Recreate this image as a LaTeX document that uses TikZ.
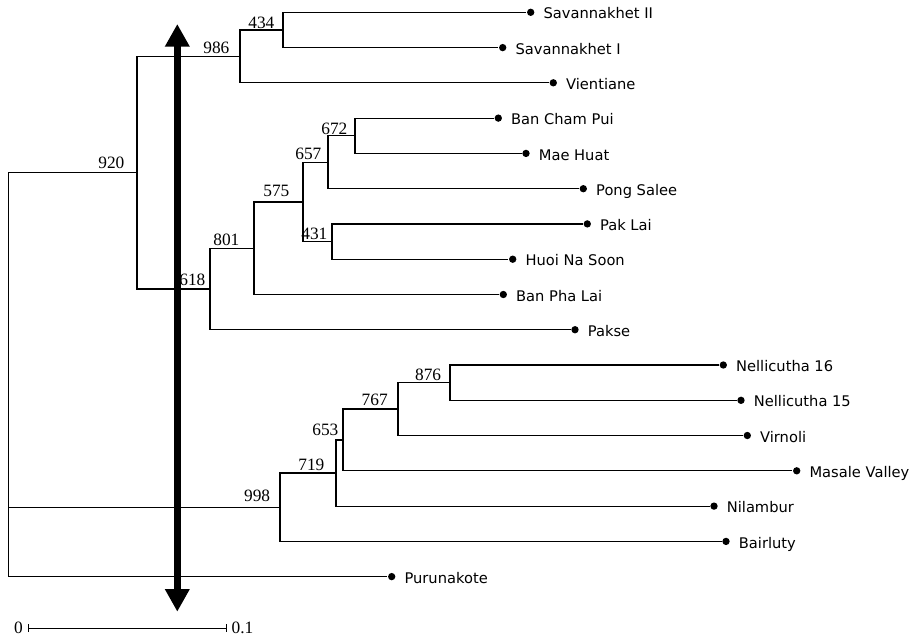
\documentclass[tikz,border=0pt]{standalone}
\usepackage{fontspec}
\setmainfont{Liberation Serif}
\newfontfamily\taxonfont{DejaVu Sans}
\usetikzlibrary{arrows.meta,positioning}

\tikzset{every picture/.style={line width=0.9pt}}
\tikzset{
  tip/.style={circle,fill=black,inner sep=0pt,minimum size=5.5pt},
  taxon/.style={font=\taxonfont\fontsize{11}{13}\selectfont,inner sep=0pt,text height=10pt,text depth=0pt},
  boot/.style={font=\fontsize{13}{15}\selectfont,inner sep=0pt,anchor=base east},
  scalelab/.style={font=\fontsize{13}{15}\selectfont,inner sep=0pt},
}

\begin{document}
\begin{tikzpicture}[x=0.75pt,y=0.75pt,yscale=-1,xscale=1]
\useasboundingbox (0,0) rectangle (923,637);

%Tips
\node[tip] (savII) at (530.7,12.3) {};
\node[tip] (savI) at (502.7,47.6) {};
\node[tip] (vien) at (553.3,82.8) {};
\node[tip] (bcp) at (498.3,118.1) {};
\node[tip] (mae) at (526,153.4) {};
\node[tip] (pong) at (583.3,188.7) {};
\node[tip] (paklai) at (587.3,223.9) {};
\node[tip] (huoi) at (512.7,259.2) {};
\node[tip] (bpl) at (503.3,294.5) {};
\node[tip] (pakse) at (575,329.7) {};
\node[tip] (nel16) at (723.3,365) {};
\node[tip] (nel15) at (741,400.3) {};
\node[tip] (virn) at (747.3,435.5) {};
\node[tip] (masale) at (796.7,470.8) {};
\node[tip] (nilam) at (714,506.1) {};
\node[tip] (bair) at (726,541.4) {};
\node[tip] (puru) at (391.7,576.6) {};

%Internal nodes
\coordinate (root) at (8.7,374.6);
\coordinate (n920) at (137,172.7);
\coordinate (n986) at (240,56.4);
\coordinate (n434) at (283,30);
\coordinate (n618) at (210,289);
\coordinate (n801) at (254,248.2);
\coordinate (n575) at (303,201.9);
\coordinate (n657) at (328,162.2);
\coordinate (n672) at (355,135.7);
\coordinate (n431) at (332,241.6);
\coordinate (n998) at (280,507.2);
\coordinate (n719) at (336,473);
\coordinate (n653) at (343,439.9);
\coordinate (n767) at (398,409);
\coordinate (n876) at (450,382.6);

%Branches
\draw (root) |- (n920);
\draw (root) |- (n998);
\draw (root) |- (puru);
\draw (n920) |- (n986);
\draw (n920) |- (n618);
\draw (n986) |- (n434);
\draw (n986) |- (vien);
\draw (n434) |- (savII);
\draw (n434) |- (savI);
\draw (n618) |- (n801);
\draw (n618) |- (pakse);
\draw (n801) |- (n575);
\draw (n801) |- (bpl);
\draw (n575) |- (n657);
\draw (n575) |- (n431);
\draw (n657) |- (n672);
\draw (n657) |- (pong);
\draw (n672) |- (bcp);
\draw (n672) |- (mae);
\draw (n431) |- (paklai);
\draw (n431) |- (huoi);
\draw (n998) |- (n719);
\draw (n998) |- (bair);
\draw (n719) |- (n653);
\draw (n719) |- (nilam);
\draw (n653) |- (n767);
\draw (n653) |- (masale);
\draw (n767) |- (n876);
\draw (n767) |- (virn);
\draw (n876) |- (nel16);
\draw (n876) |- (nel15);

%Taxa
\node[taxon, right=6pt of savII] (lsavII) {Savannakhet II};
\node[taxon, right=6pt of savI] (lsavI) {Savannakhet I};
\node[taxon, right=6pt of vien] (lvien) {Vientiane};
\node[taxon, right=6pt of bcp] (lbcp) {Ban Cham Pui};
\node[taxon, right=6pt of mae] (lmae) {Mae Huat};
\node[taxon, right=6pt of pong] (lpong) {Pong Salee};
\node[taxon, right=6pt of paklai] (lpaklai) {Pak Lai};
\node[taxon, right=6pt of huoi] (lhuoi) {Huoi Na Soon};
\node[taxon, right=6pt of bpl] (lbpl) {Ban Pha Lai};
\node[taxon, right=6pt of pakse] (lpakse) {Pakse};
\node[taxon, right=6pt of nel16] (lnel16) {Nellicutha 16};
\node[taxon, right=6pt of nel15] (lnel15) {Nellicutha 15};
\node[taxon, right=6pt of virn] (lvirn) {Virnoli};
\node[taxon, right=6pt of masale] (lmasale) {Masale Valley};
\node[taxon, right=6pt of nilam] (lnilam) {Nilambur};
\node[taxon, right=6pt of bair] (lbair) {Bairluty};
\node[taxon, right=6pt of puru] (lpuru) {Purunakote};

%Bootstrap values
\node[boot] (b920) at (125,168.5) {920};
\node[boot] (b986) at (230,53.3) {986};
\node[boot] (b434) at (275,28.3) {434};
\node[boot] (b672) at (348,134) {672};
\node[boot] (b657) at (322,159.3) {657};
\node[boot] (b575) at (290,196.7) {575};
\node[boot] (b431) at (328,239.3) {431};
\node[boot] (b801) at (240,245) {801};
\node[boot] (b618) at (206,285) {618};
\node[boot] (b876) at (441.7,380) {876};
\node[boot] (b767) at (388.3,405) {767};
\node[boot] (b653) at (339,435) {653};
\node[boot] (b719) at (325,470) {719};
\node[boot] (b998) at (270.7,501.7) {998};

%Double arrow
\coordinate (atop) at (177.3,24);
\coordinate (abot) at (177.3,611.7);
\draw[line width=5.3pt, {Triangle[length=17pt,width=17.5pt]}-{Triangle[length=17pt,width=17.5pt]}] (atop) -- (abot);

%Scale bar
\coordinate (s0) at (28,628);
\coordinate (s1) at (227,628);
\draw[line width=0.7pt, {Bar[width=6pt]}-{Bar[width=6pt]}] (s0) -- (s1);
\node[scalelab, left=3.5pt of s0] (sc0) {0};
\node[scalelab, right=3pt of s1] (sc1) {0.1};

\end{tikzpicture}
\end{document}
